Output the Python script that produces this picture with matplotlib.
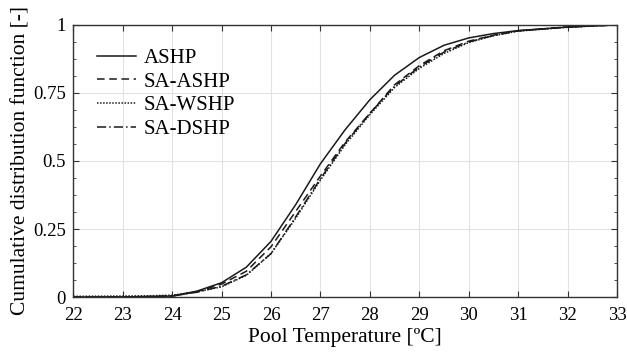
import matplotlib
matplotlib.use("Agg")
import matplotlib.pyplot as plt
from matplotlib.ticker import MultipleLocator

plt.rcParams["font.family"] = ["Liberation Serif", "DejaVu Serif"]
plt.rcParams["mathtext.fontset"] = "stix"

# pool temperature grid [degC]
temp = [22, 23, 23.5, 24, 24.5, 25, 25.5, 26, 26.5, 27, 27.5, 28,
        28.5, 29, 29.5, 30, 30.5, 31, 32, 33]

# cumulative distribution per system
ashp = [0, 0.001, 0.002, 0.004, 0.022, 0.053, 0.11, 0.205, 0.34, 0.49,
        0.615, 0.725, 0.815, 0.88, 0.925, 0.952, 0.968, 0.979, 0.992, 1.0]
sa_ashp = [0, 0.001, 0.002, 0.004, 0.02, 0.048, 0.095, 0.185, 0.315, 0.445,
           0.57, 0.675, 0.78, 0.85, 0.905, 0.94, 0.962, 0.978, 0.992, 1.0]
sa_wshp = [0.003, 0.004, 0.005, 0.007, 0.02, 0.038, 0.08, 0.16, 0.29, 0.43,
           0.56, 0.67, 0.77, 0.84, 0.895, 0.935, 0.96, 0.977, 0.991, 1.0]
sa_dshp = [0, 0.001, 0.002, 0.004, 0.018, 0.04, 0.082, 0.16, 0.295, 0.435,
           0.565, 0.675, 0.775, 0.845, 0.9, 0.937, 0.961, 0.978, 0.992, 1.0]

series = [
    ("ASHP", ashp, "-"),
    ("SA-ASHP", sa_ashp, (0, (5, 3))),
    ("SA-WSHP", sa_wshp, (0, (1, 1))),
    ("SA-DSHP", sa_dshp, (0, (6, 2, 1, 2))),
]

fig = plt.figure(figsize=(6.27, 3.55), dpi=100)
ax = fig.add_axes([0.117, 0.163, 0.867, 0.767])

for name, vals, ls in series:
    ax.plot(temp, vals, color="#1a1a1a", linestyle=ls, linewidth=1.1, label=name)

ax.set_xlim(22, 33)
ax.set_ylim(0, 1)
ax.set_xticks(range(22, 34))
ax.set_yticks([0, 0.25, 0.5, 0.75, 1])
ax.set_yticklabels(["0", "0.25", "0.5", "0.75", "1"])
ax.yaxis.set_minor_locator(MultipleLocator(0.0625))
ax.grid(True, which="major", color="#e2e2e2", linewidth=0.8)
ax.tick_params(which="both", direction="in", top=True, right=True,
               labelsize=13.5, color="#333333")
ax.tick_params(which="major", length=4)
ax.tick_params(which="minor", length=2.5)
ax.tick_params(axis="x", pad=7)
ax.tick_params(axis="y", pad=5.5)
for sp in ax.spines.values():
    sp.set_color("#333333")
    sp.set_linewidth(1.0)

ax.set_xlabel("Pool Temperature [ºC]", fontsize=15.5, labelpad=3)
ax.set_ylabel("Cumulative distribution function [-]", fontsize=15.5, labelpad=2)

leg = ax.legend(loc="upper left", bbox_to_anchor=(0.02, 0.96), frameon=False,
                fontsize=15, handlelength=1.9, handletextpad=0.35,
                labelspacing=0.2, borderaxespad=0.2)

fig.savefig("out.png", dpi=100)
